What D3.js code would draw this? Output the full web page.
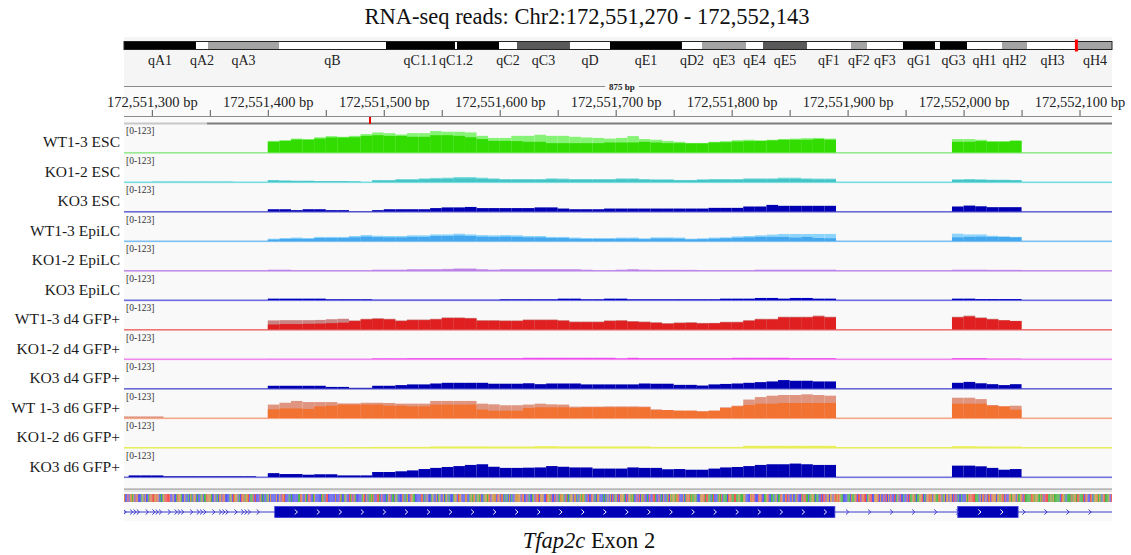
<!DOCTYPE html>
<html>
<head>
<meta charset="utf-8">
<script src="https://cdn.jsdelivr.net/npm/d3@7"></script>
<style>
  html, body { margin: 0; padding: 0; background: #ffffff; }
  svg text { font-family: "Liberation Serif", "DejaVu Serif", serif; }
</style>
</head>
<body>
<svg id="chart" width="1131" height="555"></svg>
<script>
// ---------------- locus and reference data ----------------
const titleText = "RNA-seq reads: Chr2:172,551,270 - 172,552,143";
const locusStart = 172551276;
const locusEnd = 172552128;
const spanLabel = "875 bp";
const dataRange = [0, 123];

// chromosome 2 ideogram (band ends in Mb)
const chrLengthMb = 179.0;
const markerMb = 172.551;
const bandNames = ["qA1","qA2","qA3","qB","qC1.1","qC1.2","qC1.3","qC2","qC3","qD","qE1","qD2","qE3","qE4","qE5","qF1","qF2","qF3","qG1","qG2","qG3","qH1","qH2","qH3","qH4"];
const bandEnds = [13.04,15.22,28.08,47.47,59.97,60.33,67.94,71.20,80.80,88.05,101.09,104.72,112.69,115.77,123.74,131.71,134.61,141.13,146.93,147.83,152.73,159.07,163.60,172.84,179.0];
const bandStains = ["gpos100","gneg","gpos33","gneg","gpos100","gneg","gpos100","gneg","gpos75","gneg","gpos100","gneg","gpos33","gneg","gpos75","gneg","gpos33","gneg","gpos100","gneg","gpos100","gneg","gpos33","gneg","gpos33"];

// axis ticks (bp)
const tickStep = 50;
const labelStep = 100;
const firstTick = 172551300;
const lastTick = 172552100;

// coverage bins: 10 bp windows, 49 over the first exon block and 6 over the second
const binSize = 10;
const exon1Start = 172551400;
const exon1Bins = 49;
const exon2Start = 172551990;
const exon2Bins = 6;
const upstreamStart = 172551270; // 13 bins before the first exon block

const trackNames = ["WT1-3 ESC","KO1-2 ESC","KO3 ESC","WT1-3 EpiLC","KO1-2 EpiLC","KO3 EpiLC",
  "WT1-3 d4 GFP+","KO1-2 d4 GFP+","KO3 d4 GFP+","WT 1-3 d6 GFP+","KO1-2 d6 GFP+","KO3 d6 GFP+"];

// replicate envelopes: Hi = highest replicate, Lo = overlap of all replicates
const wtEscHi = [51,54,61,59,67,72,69,73,81,88,85,79,85,85,94,91,91,88,73,64,64,73,73,78,73,73,69,66,64,61,64,72,59,56,51,47,42,42,47,50,54,56,53,56,59,61,63,64,61, 59,59,56,50,50,53];
const wtEscLo = [47,51,57,56,61,66,66,67,73,76,73,73,69,69,76,76,73,67,59,51,51,50,47,47,41,41,41,41,41,44,44,44,47,44,41,41,40,40,44,45,48,50,51,53,56,56,56,59,56, 47,47,50,47,47,51];
const ko12EscHi = [9,7,6,6,4,4,4,3,0,9,9,13,13,16,18,19,22,22,19,16,13,13,13,13,16,15,13,13,13,13,16,16,13,12,12,9,9,12,13,13,13,16,16,16,19,19,16,15,15, 12,13,12,10,10,9];
const ko12EscLo = [6,5,4,4,3,3,3,2,0,6,6,9,9,12,13,14,16,16,14,12,10,10,10,10,12,11,10,10,10,10,12,12,10,9,9,7,7,9,10,10,10,12,12,12,14,14,12,11,11, 9,10,9,8,8,7];
const ko12EscUp = [0,0,0,3,3,3,3,3,3,3,0,0,0];
const ko3Esc = [10,10,6,10,10,6,6,1,1,6,10,10,10,10,15,18,18,20,15,15,15,15,15,18,18,13,10,10,10,13,13,13,13,13,13,13,13,13,16,16,16,22,22,29,25,25,25,25,25, 22,26,23,19,19,19];
const wtEpiHi = [10,13,15,13,18,18,18,22,26,23,22,22,25,25,29,29,32,29,26,25,26,25,22,22,18,18,15,13,13,13,15,15,12,16,16,15,10,12,15,16,20,22,25,28,31,31,31,31,31, 32,29,29,23,20,18];
const wtEpiLo = [6,9,10,9,13,13,13,16,19,17,16,16,18,18,22,22,24,22,19,18,19,18,16,16,13,13,10,9,9,9,10,10,8,11,11,10,7,8,10,12,14,16,18,18,18,15,18,13,12, 16,18,19,18,18,16];
const ko12EpiHi = [4,4,2,2,2,2,2,2,2,4,4,4,6,6,6,7,9,9,6,4,6,6,6,6,6,6,6,4,2,2,4,6,4,3,3,3,3,2,2,2,2,2,4,4,4,4,4,4,4, 4,4,4,3,3,3];
const ko12EpiLo = [2,2,1,1,1,1,1,1,1,2,2,2,3,3,3,4,5,5,3,2,3,3,3,3,3,3,3,2,1,1,2,3,2,2,2,2,2,1,1,1,1,1,2,2,2,2,2,2,2, 2,2,2,2,2,2];
const ko3Epi = [6,6,6,6,6,3,3,3,3,1,1,1,1,1,1,1,1,1,1,1,3,3,3,3,3,6,6,3,3,6,6,3,3,3,3,3,3,3,3,6,6,6,9,9,6,9,9,6,6, 6,6,4,4,4,4];
const wtD4Hi = [40,41,41,41,42,45,47,40,47,50,47,40,44,44,47,53,53,51,41,41,40,40,44,44,44,41,35,35,35,40,41,37,35,32,28,31,32,29,29,34,34,41,47,47,56,56,56,61,56, 56,61,53,47,41,38];
const wtD4Lo = [22,24,24,25,26,28,30,37,44,46,44,37,41,41,44,50,50,48,38,38,37,37,41,41,41,38,32,32,32,37,38,34,32,29,25,28,29,26,27,31,31,38,44,44,53,53,53,57,53, 53,57,50,44,40,37];
const ko12D4Hi = [1,1,1,1,1,1,1,1,1,3,3,3,4,4,4,4,4,4,4,4,4,4,6,6,6,6,6,6,6,6,3,6,4,4,4,4,4,4,4,4,6,6,6,6,6,4,4,4,4, 4,4,4,1,1,1];
const ko12D4Lo = [0,0,0,0,0,0,0,0,0,2,2,2,3,3,3,3,3,3,3,3,3,3,4,4,4,4,4,4,4,4,2,4,3,3,3,3,3,3,3,3,4,4,4,4,4,3,3,3,3, 3,3,3,1,1,1];
const ko3D4 = [12,12,12,12,12,7,7,3,3,12,12,15,18,18,22,25,25,25,25,21,21,21,23,19,22,22,22,18,18,18,18,18,22,21,21,16,16,13,18,20,22,25,28,31,37,34,34,31,31, 25,29,23,19,15,19];
const wtD6Hi = [59,67,75,70,70,70,64,64,67,67,66,63,63,63,75,75,75,75,63,60,56,56,59,63,60,59,50,50,50,51,51,51,50,38,35,32,32,29,32,47,54,81,92,98,101,101,104,101,98, 89,89,83,57,51,54];
const wtD6Lo = [38,42,42,40,51,54,59,59,59,59,54,54,51,51,59,59,59,59,37,32,32,32,44,47,47,47,44,47,47,47,47,47,47,35,35,32,32,29,32,44,51,57,63,63,66,66,66,66,66, 63,63,63,54,51,37];
const wtD6Up = [7,7,7,7,0,0,0,0,0,0,0,0,0];
const ko12D6Hi = [2,2,2,2,2,2,2,0,0,3,3,3,3,3,5,5,5,5,5,4,4,4,4,6,6,5,5,5,5,5,5,5,5,3,3,3,3,3,3,3,3,8,8,8,8,8,8,8,8, 6,6,5,4,4,4];
const ko12D6Lo = [1,1,1,1,1,1,1,0,0,2,2,2,2,2,3,3,3,3,3,3,3,3,3,4,4,3,3,3,3,3,3,3,3,2,2,2,2,2,2,2,2,5,5,5,5,5,5,5,5, 4,4,3,3,3,3];
const ko3D6 = [17,13,13,10,12,12,7,7,7,22,22,25,29,35,40,44,48,53,56,45,40,40,41,42,48,45,42,42,37,37,37,42,40,40,34,35,32,32,37,42,44,48,53,56,56,59,56,53,53, 50,50,47,40,32,35];
const ko3D6Up = [0,7,7,7,3,3,3,3,3,3,3,3,0];

// gene model (Tfap2c) in bp
const geneExonStarts = [172551406, 172551995];
const geneExonEnds = [172551889, 172552047];

// reference sequence across the view
const refSeq =
  "GCCTCGGAGCTGCCCAGCGCCATGTTGGTGCACAGTTTTTCCGCCATGGACCGCCACGAC" +
  "GGCACCAGCAATGGGACCGCACGGCTGCCCCAGCTGGGCACTGTAGGTCAATCTCCCTAC" +
  "ACCAGCGCCCCGCCGCTGTCCCACACCCCCAATGCCGACTTCCAGCCCCCATACTTCCCC" +
  "CCGCCCTACCAGCCTATCTACCCCCAGTCGCAAGATCCTTACTCCCACGTCAACGACCCC" +
  "TACAGCCTGAACCCCCTGCACGCCCAGCCGCAGCCGCAGCACCCAGGCTGGCCCGGCCAG" +
  "AGGCAGAGCCAGGAGTCGGGGCTGCTGCACACGCACCGGGGGCTGCCTCACCAGCTGTCG" +
  "GGCCTGGATCCTCGCAGGGACTACAGGCGGCACGAGGACCTCCTGCACGGCCCACACGCG" +
  "CTCAGCTCGGGACTCGGAGACCTCTCGATCCACTCCTTACCTCACGCCATCGAGGAGGTC" +
  "CCGCATGTAGAAGACCCGGGTATTAACATCCCAGATCAAACTGTAATTAAGAAAGGCCCC" +
  "GTGTCCCTGTCCAAGTCCAACAGCAATGCCGTCTCCGCCATCCCTATTAACAAGGACAAC" +
  "CTCTTCGGCGGCGTGGTGAACCCCAACGAAGTCTTCTGTTCAGTTCCGGGTCGCCTCTCG" +
  "CTCCTCAGCTCCACCTCTAAGTACAAGGTCACGGTGGCGGAAGTGCAGCGGCGGCTCTCA" +
  "CCACCCGAGTGTTTAAACGCGTCGCTGCTGGGCGGAGTGCTCCGGAGGGCGAAGTCTAAA" +
  "AATGGAGGAAGATCTTTAAGAGAAAAACTGGACAAAATAGGATTAAATCTGCCTGCAGGG" +
  "AGACGTAAAGCTGCCAACGTTACCCTGCTCACATCACTAGTAGAGGGTACCAGTTAGTGG";

// ---------------- styles ----------------
const trackStyles = [
  { dark: "#33dc00", light: "#86f276", base: "#98e890" },
  { dark: "#44c4c6", light: "#7ddcdc", base: "#7adede" },
  { dark: "#0000b2", light: "#0000b2", base: "#6a6ad4" },
  { dark: "#45a8ee", light: "#8cd4fc", base: "#7cc0f2" },
  { dark: "#b06ee0", light: "#cfa2ef", base: "#c290ea" },
  { dark: "#0000c0", light: "#0000c0", base: "#6c6ce0" },
  { dark: "#e02020", light: "#c98383", base: "#f07474" },
  { dark: "#f040f0", light: "#f590f5", base: "#f088f0" },
  { dark: "#0000b2", light: "#0000b2", base: "#6a6ad4" },
  { dark: "#f27232", light: "#df9580", base: "#f8a888" },
  { dark: "#e4ec3c", light: "#eef48c", base: "#e6ee60" },
  { dark: "#0000b2", light: "#0000b2", base: "#7272d8" }
];
const baseColors = { A: "#00a800", C: "#1c1cff", G: "#d17105", T: "#ff1010" };

// ---------------- assemble tracks ----------------
const trackSeries = [
  { hi: wtEscHi, lo: wtEscLo },
  { hi: ko12EscHi, lo: ko12EscLo, up: ko12EscUp },
  { hi: ko3Esc },
  { hi: wtEpiHi, lo: wtEpiLo },
  { hi: ko12EpiHi, lo: ko12EpiLo },
  { hi: ko3Epi },
  { hi: wtD4Hi, lo: wtD4Lo },
  { hi: ko12D4Hi, lo: ko12D4Lo },
  { hi: ko3D4 },
  { hi: wtD6Hi, lo: wtD6Lo, up: wtD6Up },
  { hi: ko12D6Hi, lo: ko12D6Lo },
  { hi: ko3D6, up: ko3D6Up }
];
const binStarts = d3.range(exon1Bins).map(i => exon1Start + i * binSize)
  .concat(d3.range(exon2Bins).map(i => exon2Start + i * binSize));
const upBinStarts = d3.range(13).map(i => upstreamStart + i * binSize);

// ---------------- layout ----------------
const W = 1131, H = 555;
const panelL = 124, panelR = 1112;
const trackTop0 = 124.5, trackStep = 29.5, barMax = 28;

const svg = d3.select("#chart");
const x = d3.scaleLinear().domain([locusStart, locusEnd]).range([panelL, panelR]);
const chrX = d3.scaleLinear().domain([0, chrLengthMb]).range([panelL, panelR]);

svg.append("defs").append("clipPath").attr("id", "panelClip")
  .append("rect").attr("x", panelL).attr("y", 0).attr("width", panelR - panelL).attr("height", H);

// panel backgrounds
svg.append("rect").attr("x", panelL).attr("y", 37).attr("width", panelR - panelL).attr("height", 50).attr("fill", "#f5f5f5");
svg.append("rect").attr("x", panelL).attr("y", 87).attr("width", panelR - panelL).attr("height", 37).attr("fill", "#fafafa");
svg.append("rect").attr("x", panelL).attr("y", 124).attr("width", panelR - panelL).attr("height", 397).attr("fill", "#f9f9f9");

// title
svg.append("text").attr("x", 587).attr("y", 24).attr("text-anchor", "middle")
  .attr("font-size", 22.5).attr("fill", "#111").text(titleText);

// ---------------- ideogram ----------------
const bands = bandNames.map((n, i) => ({
  name: n, start: i === 0 ? 0 : bandEnds[i - 1], end: bandEnds[i], stain: bandStains[i]
}));
const stainFill = { gpos100: "#000000", gpos75: "#595959", gpos33: "#a4a4a4", gneg: "#ffffff" };
const ideoY = 41.5, ideoH = 8;
svg.append("g").selectAll("rect").data(bands).join("rect")
  .attr("x", d => chrX(d.start)).attr("y", ideoY)
  .attr("width", d => chrX(d.end) - chrX(d.start)).attr("height", ideoH)
  .attr("fill", d => stainFill[d.stain]);
svg.append("rect").attr("x", panelL).attr("y", ideoY).attr("width", panelR - panelL).attr("height", ideoH)
  .attr("fill", "none").attr("stroke", "#222").attr("stroke-width", 1);
svg.append("rect").attr("x", chrX(markerMb) - 1.5).attr("y", 39.5).attr("width", 3).attr("height", 12)
  .attr("fill", "#ff0000");

// band labels, skipping any that would overlap the previous one
const bandLabelG = svg.append("g");
let lastRight = -Infinity;
bands.forEach(b => {
  const cx = (chrX(b.start) + chrX(b.end)) / 2;
  const t = bandLabelG.append("text").attr("x", cx).attr("y", 65).attr("text-anchor", "middle")
    .attr("font-size", 14).attr("fill", "#222").text(b.name);
  const w = t.node().getComputedTextLength();
  if (cx - w / 2 < lastRight - 1) { t.remove(); } else { lastRight = cx + w / 2; }
});

// span line with "875 bp"
svg.append("line").attr("x1", panelL).attr("x2", panelR).attr("y1", 86.5).attr("y2", 86.5)
  .attr("stroke", "#8a8a8a").attr("stroke-width", 1);
const spanText = svg.append("text").attr("x", 622).attr("y", 89.5).attr("text-anchor", "middle")
  .attr("font-size", 9).attr("font-weight", "bold").attr("fill", "#222").text(spanLabel);
const sw = spanText.node().getComputedTextLength();
svg.insert("rect", () => spanText.node()).attr("x", 622 - sw / 2 - 4).attr("y", 82).attr("width", sw + 8)
  .attr("height", 9).attr("fill", "#f7f7f7");

// ---------------- ruler ----------------
const fmt = d3.format(",");
const axis = d3.axisTop(x)
  .tickValues(d3.range(firstTick, lastTick + 1, tickStep))
  .tickSize(6).tickPadding(3)
  .tickFormat(d => (d % labelStep === 0 ? fmt(d) + " bp" : ""));
const axG = svg.append("g").attr("transform", "translate(0,116)").call(axis);
axG.select(".domain").remove();
axG.selectAll(".tick line").attr("stroke", "#555");
axG.selectAll(".tick text").attr("font-size", 14.5).attr("fill", "#222")
  .attr("font-family", "Liberation Serif, DejaVu Serif, serif");
svg.append("line").attr("x1", panelL).attr("x2", panelR).attr("y1", 116.5).attr("y2", 116.5)
  .attr("stroke", "#8c8c8c").attr("stroke-width", 1);
svg.append("rect").attr("x", panelL).attr("y", 122.5).attr("width", 83).attr("height", 2).attr("fill", "#c8c8c8");
svg.append("rect").attr("x", 207).attr("y", 122.5).attr("width", panelR - 207).attr("height", 2).attr("fill", "#7c7c7c");
svg.append("rect").attr("x", 369).attr("y", 117).attr("width", 2).attr("height", 7).attr("fill", "#ee0000");

// ---------------- coverage tracks ----------------
const tracksG = svg.append("g").attr("clip-path", "url(#panelClip)");
trackNames.forEach((name, i) => {
  const top = trackTop0 + i * trackStep;
  const base = top + barMax;
  const st = trackStyles[i];
  const s = trackSeries[i];
  const y = d3.scaleLinear().domain(dataRange).range([base, base - barMax]);
  const g = tracksG.append("g");

  g.append("rect").attr("x", panelL).attr("width", panelR - panelL)
    .attr("y", base - 0.5).attr("height", 1.6).attr("fill", st.base);

  const drawLayer = (vals, starts, color) => {
    g.append("g").selectAll("rect").data(vals.map((v, k) => ({ v, s: starts[k] })).filter(d => d.v > 0))
      .join("rect")
      .attr("x", d => x(d.s)).attr("width", d => x(d.s + binSize) - x(d.s))
      .attr("y", d => y(d.v)).attr("height", d => base - y(d.v))
      .attr("fill", color);
  };
  if (s.up) drawLayer(s.up, upBinStarts, s.lo ? st.light : st.dark);
  drawLayer(s.hi, binStarts, s.lo ? st.light : st.dark);
  if (s.lo) drawLayer(s.lo, binStarts, st.dark);

  // data range label
  svg.append("text").attr("x", 126).attr("y", top + 9.5).attr("font-size", 9.5).attr("fill", "#333")
    .text("[" + dataRange[0] + "-" + dataRange[1] + "]");
  // track name
  svg.append("text").attr("x", 120).attr("y", top + 22.5).attr("text-anchor", "end")
    .attr("font-size", 15.5).attr("fill", "#1a1a1a").text(name);
});

// ---------------- sequence and gene ----------------
svg.append("rect").attr("x", panelL).attr("y", 488.5).attr("width", panelR - panelL).attr("height", 1.2).attr("fill", "#9a9a9a");
svg.append("rect").attr("x", panelL).attr("y", 490.5).attr("width", panelR - panelL).attr("height", 1).attr("fill", "#cfcfcf");

const seqData = refSeq.slice(0, locusEnd - locusStart).split("").map((b, i) => ({ b, p: locusStart + i }));
svg.append("rect").attr("x", panelL).attr("y", 494).attr("width", panelR - panelL).attr("height", 8).attr("fill", "#dcdcdc");
svg.append("g").selectAll("rect").data(seqData).join("rect")
  .attr("x", d => x(d.p)).attr("width", d => Math.max(0.9, x(d.p + 1) - x(d.p) - 0.2))
  .attr("y", 494).attr("height", 8).attr("fill", d => baseColors[d.b]).attr("opacity", 0.72);

const geneG = svg.append("g").attr("clip-path", "url(#panelClip)");
const geneY = 512;
geneG.append("line").attr("x1", panelL).attr("x2", panelR).attr("y1", geneY).attr("y2", geneY)
  .attr("stroke", "#3a3ad0").attr("stroke-width", 1);

const chevron = (g, cx, color, h) => {
  g.append("path").attr("d", `M${cx - 1.5},${geneY - h} L${cx + 1.2},${geneY} L${cx - 1.5},${geneY + h}`)
    .attr("fill", "none").attr("stroke", color).attr("stroke-width", 1);
};
// intron arrows before the first coding block (overlapping transcripts)
const e1x = x(geneExonStarts[0]);
for (let p = 125; p < e1x - 12; p += 22.2) {
  [0, 6.7, 10, 13.3].forEach(o => { if (p + o < e1x - 14) chevron(geneG, p + o, "#3a3ad0", 2.5); });
}
// exons
geneExonStarts.forEach((s, i) => {
  geneG.append("rect").attr("x", x(s)).attr("y", 506.5).attr("width", x(geneExonEnds[i]) - x(s)).attr("height", 11)
    .attr("fill", "#0000b4").attr("stroke", "#3c3cd8").attr("stroke-width", 0.8);
});
// strand arrows on a regular grid after the first exon start
for (let p = e1x + 21.5; p < panelR; p += 22.05) {
  const bp = x.invert(p);
  const inExon = geneExonStarts.some((s, i) => bp >= s && bp <= geneExonEnds[i]);
  chevron(geneG, p, inExon ? "#ffffff" : "#3a3ad0", 2.5);
}

// caption
const cap = svg.append("text").attr("x", 589).attr("y", 548).attr("text-anchor", "middle")
  .attr("font-size", 22.5).attr("fill", "#111");
cap.append("tspan").attr("font-style", "italic").text("Tfap2c");
cap.append("tspan").text(" Exon 2");
</script>
</body>
</html>
